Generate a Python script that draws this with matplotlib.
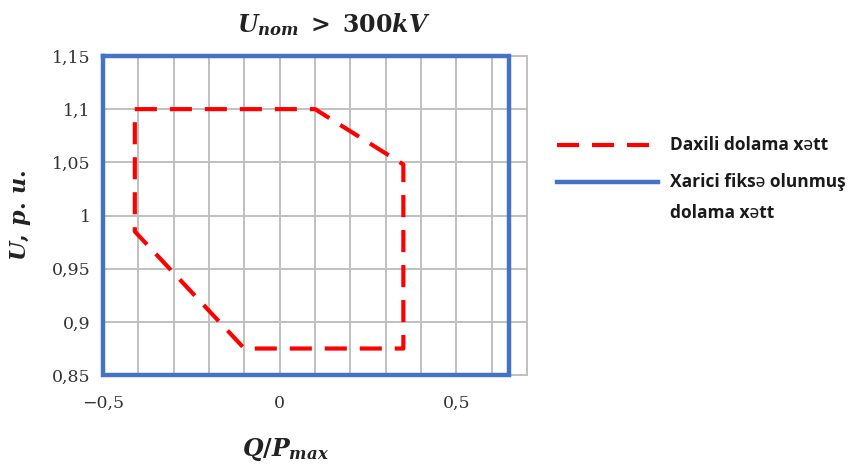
import matplotlib
matplotlib.use("Agg")
import matplotlib.pyplot as plt
from matplotlib.lines import Line2D

# Data
inner_q = [-0.41, 0.10, 0.35, 0.35, -0.10, -0.41, -0.41]
inner_u = [1.10, 1.10, 1.048, 0.875, 0.875, 0.985, 1.10]
outer_q = [-0.50, 0.65, 0.65, -0.50, -0.50]
outer_u = [1.15, 1.15, 0.85, 0.85, 1.15]
y_ticks = [0.85, 0.90, 0.95, 1.00, 1.05, 1.10, 1.15]
y_labels = ["0,85", "0,9", "0,95", "1", "1,05", "1,1", "1,15"]
x_ticks = [-0.5, 0.0, 0.5]
x_labels = ["\u22120,5", "0", "0,5"]
legend_labels = ["Daxili dolama xətt", "Xarici fiksə olunmuş\ndolama xətt"]

plt.rcParams['mathtext.fontset'] = 'custom'
plt.rcParams['mathtext.it'] = 'DejaVu Serif:italic:bold'
plt.rcParams['mathtext.rm'] = 'DejaVu Serif:bold'
plt.rcParams['mathtext.bf'] = 'DejaVu Serif:bold'

W, H = 860, 466
fig = plt.figure(figsize=(W / 100, H / 100), dpi=100)
ax = fig.add_axes([0.1198, 0.195, 0.493, 0.685])

ax.set_xlim(-0.5, 0.7)
ax.set_ylim(0.85, 1.15)

tick_font = dict(fontsize=12.5, family='DejaVu Serif', color='#333333')
ax.set_xticks(x_ticks)
ax.set_xticklabels(x_labels, **tick_font)
ax.set_xticks([-0.4, -0.3, -0.2, -0.1, 0.1, 0.2, 0.3, 0.4, 0.6, 0.7], minor=True)
ax.set_yticks(y_ticks)
ax.set_yticklabels(y_labels, **tick_font)
ax.tick_params(axis='both', which='both', length=0)
ax.tick_params(axis='x', pad=14)
ax.tick_params(axis='y', pad=9)

ax.grid(True, which='both', color='#c0c0c0', linewidth=1.4)
ax.set_axisbelow(True)
for s in ax.spines.values():
    s.set_color('#c0c0c0')
    s.set_linewidth(1.4)

red_style = dict(color='#FF0000', linewidth=3.0, linestyle=(0, (5.3, 3.1)))
blue_style = dict(color='#4472C4', linewidth=3.2)

ax.plot(outer_q, outer_u, clip_on=False, zorder=3, solid_joinstyle='miter', **blue_style)
ax.plot(inner_q, inner_u, clip_on=False, zorder=4, **red_style)

ax.set_title(r'$U_{nom}\;>\;300kV$', fontsize=17, pad=17, x=0.545, color='#222222')
ax.set_xlabel(r'$Q/P_{max}$', fontsize=17, color='#222222')
ax.xaxis.set_label_coords(0.43, -0.19)
ax.set_ylabel(r'$U,\,p.\,u.$', fontsize=16, color='#222222')
ax.yaxis.set_label_coords(-0.165, 0.5)

# Legend drawn in figure pixel coordinates
def fx(px):
    return px / W

def fy(py):
    return 1 - py / H

fig.add_artist(Line2D([fx(557), fx(660)], [fy(145), fy(145)], **red_style))
fig.add_artist(Line2D([fx(557), fx(658)], [fy(182), fy(182)], **blue_style))
leg_font = dict(family=['Open Sans', 'Noto Sans', 'DejaVu Sans'], weight='bold',
                fontsize=12.5, color='#1a1a1a', va='center', ha='left')
fig.text(fx(670), fy(145), legend_labels[0], **leg_font)
lines2 = legend_labels[1].split('\n')
fig.text(fx(670), fy(182), lines2[0], **leg_font)
fig.text(fx(670), fy(213), lines2[1], **leg_font)

fig.savefig('out.png', dpi=100)
